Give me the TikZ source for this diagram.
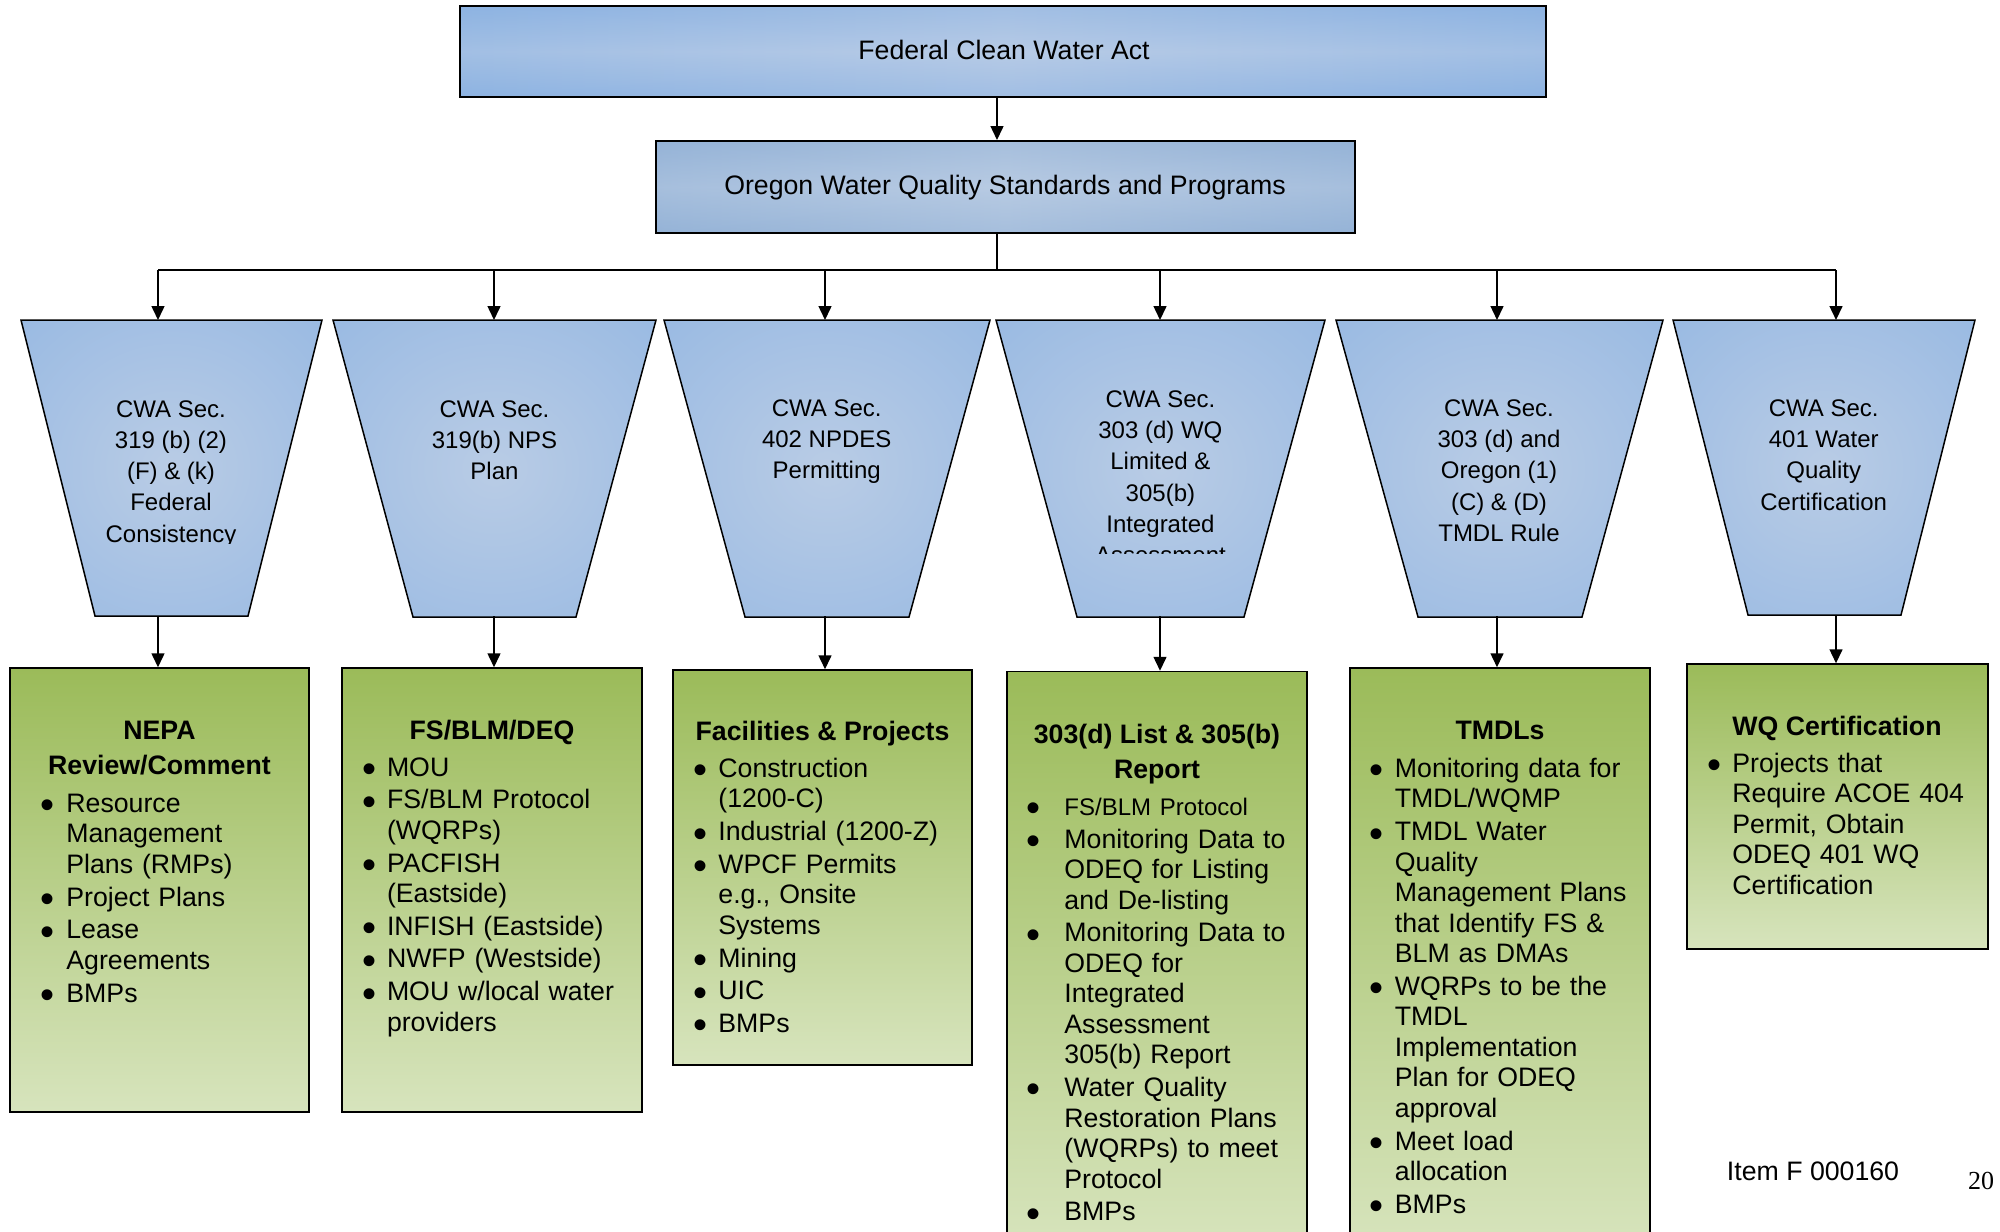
\documentclass[tikz,border=0pt]{standalone}
\usepackage{fontspec}
\setmainfont{Liberation Sans}
\newfontfamily\timesfont{Liberation Serif}
\usetikzlibrary{arrows.meta,fit}
\definecolor{bedge}{HTML}{8DB3E2}
\definecolor{bmid}{HTML}{B7CBE6}
\definecolor{bbedge}{HTML}{95B3D7}
\definecolor{bbmid}{HTML}{B8CBE3}
\definecolor{tin}{HTML}{B9CCE5}
\definecolor{tout}{HTML}{8DB3E2}
\definecolor{gtop}{HTML}{9BBB59}
\definecolor{gbot}{HTML}{D7E4BD}
\pgfdeclareradialshading{trapshade}{\pgfpoint{0bp}{0bp}}{color(0bp)=(tin); color(50bp)=(tout); color(72bp)=(tout)}
\newlength\bulind
\newcommand\bigbul{\kern-1.2pt\raisebox{-3.2pt}{\scalebox{1.5}{\textbullet}}}
\newcommand\fitem[1]{\hangindent=\bulind\hangafter=1\strut\makebox[\bulind][l]{\bigbul}#1}
\newcommand\bitem[1]{\par\noindent\fitem{#1}}
\begin{document}
\begin{tikzpicture}[x=0.5pt,y=-0.5pt,
  arr/.style={-{Triangle[length=7pt,width=6.5pt]}, line width=0.75pt},
  conn/.style={line width=0.75pt},
  topbox/.style={draw, line width=1pt, inner sep=0pt},
  toptext/.style={inner sep=0pt, font=\fontsize{13.35}{16}\selectfont},
  trapbox/.style={draw, line width=0.75pt, shading=trapshade},
  ttext/.style={align=center, inner sep=0pt, font=\fontsize{12}{15.65}\selectfont},
  gbox/.style={draw, line width=0.75pt, top color=gtop, bottom color=gbot, inner sep=0pt},
  gtitle/.style={inner sep=0pt, font=\fontsize{13.35}{15.25}\selectfont\bfseries},
  glist/.style={inner sep=0pt, text width=145pt, align=left, font=\fontsize{13.35}{15.25}\selectfont},
  plain/.style={inner sep=0pt, font=\fontsize{13.35}{16}\selectfont}
]
\useasboundingbox (0,0) rectangle (2000,1231);
\clip (0,0) rectangle (2000,1231);
\fill[white] (0,0) rectangle (2000,1231);

% top boxes
\path[left color=bedge, right color=bedge, middle color=bmid] (460,6) rectangle (1546,97);
\path[top color=bedge, bottom color=bedge, middle color=bmid, opacity=0.5] (460,6) rectangle (1546,97);
\node[topbox, fit={(460,6) (1546,97)}] (fcwa) {};
\node[toptext, anchor=base] (fcwat) at (1004,59.5) {Federal Clean Water Act};

\path[left color=bbedge, right color=bbedge, middle color=bbmid] (656,141) rectangle (1355,233);
\path[top color=bbedge, bottom color=bbedge, middle color=bbmid, opacity=0.5] (656,141) rectangle (1355,233);
\node[topbox, fit={(656,141) (1355,233)}] (owq) {};
\node[toptext, anchor=base] (owqt) at (1005,194.5) {Oregon Water Quality Standards and Programs};

\coordinate (trunk) at (997,270);
\draw[arr] (fcwa.south -| trunk) -- (owq.north -| trunk);
\draw[conn] (owq.south -| trunk) -- (trunk);
\coordinate (busL) at (158,270);
\coordinate (busR) at (1836,270);
\draw[conn] (busL) -- (busR);

% trapezoids
\path[trapbox] (21,320) -- (322,320) -- (248,616) -- (95,616) -- cycle;
\path[trapbox] (333,320) -- (656,320) -- (576,617) -- (413,617) -- cycle;
\path[trapbox] (664,320) -- (990,320) -- (909,617) -- (745,617) -- cycle;
\path[trapbox] (996,320) -- (1325,320) -- (1244,617) -- (1077,617) -- cycle;
\path[trapbox] (1336,320) -- (1663,320) -- (1582,617) -- (1418,617) -- cycle;
\path[trapbox] (1673,320) -- (1975,320) -- (1901,615) -- (1748,615) -- cycle;

\begin{scope}
\clip (0,300) rectangle (2000,543);
\node[ttext, anchor=north] (t1) at (171,394.7) {\strut CWA Sec.\\319 (b) (2)\\(F) \& (k)\\Federal\\Consistency};
\end{scope}
\node[ttext, anchor=north] (t2) at (494.5,394.7) {\strut CWA Sec.\\319(b) NPS\\Plan};
\node[ttext, anchor=north] (t3) at (826.7,394) {\strut CWA Sec.\\402 NPDES\\Permitting};
\begin{scope}
\clip (0,300) rectangle (2000,553);
\node[ttext, anchor=north] (t4) at (1160.4,385) {\strut CWA Sec.\\303 (d) WQ\\Limited \&\\305(b)\\Integrated\\Assessment};
\end{scope}
\node[ttext, anchor=north] (t5) at (1499,394) {\strut CWA Sec.\\303 (d) and\\Oregon (1)\\(C) \& (D)\\TMDL Rule};
\node[ttext, anchor=north] (t6) at (1823.7,394) {\strut CWA Sec.\\401 Water\\Quality\\Certification};

% green boxes
\node[gbox, fit={(10,668) (309,1112)}] (g1) {};
\node[gbox, fit={(342,668) (642,1112)}] (g2) {};
\node[gbox, fit={(673,670) (972,1065)}] (g3) {};
\node[gbox, fit={(1007,671.5) (1307,1250)}] (g4) {};
\node[gbox, fit={(1350,668) (1650,1250)}] (g5) {};
\node[gbox, fit={(1687,664) (1988,949)}] (g6) {};

% connectors
\foreach \x/\i in {158/1, 494/2, 825/3, 1160/4, 1497/5, 1836/6}{
  \coordinate (d\i) at (\x,270);
  \coordinate (tt\i) at (\x,320);
  \coordinate (tb\i) at (\x,616);
  \draw[arr] (d\i) -- (tt\i);
  \draw[arr] (tb\i) -- (tb\i |- g\i.north);
}

% titles
\node[gtitle, anchor=base] (g1a) at (159.5,739) {NEPA};
\node[gtitle, anchor=base] (g1b) at (159.5,774) {Review/Comment};
\node[gtitle, anchor=base] (g2a) at (492,739) {FS/BLM/DEQ};
\node[gtitle, anchor=base] (g3a) at (822.5,740) {Facilities \& Projects};
\node[gtitle, anchor=base] (g4a) at (1157,743.5) {303(d) List \& 305(b)};
\node[gtitle, anchor=base] (g4b) at (1157,778.5) {Report};
\node[gtitle, anchor=base] (g5a) at (1500,739) {TMDLs};
\node[gtitle, anchor=base] (g6a) at (1837,735.5) {WQ Certification};

% lists
\node[glist, anchor=north west] (g1l) at (42.3,790.65) {\setlength\parskip{1.1pt}\setlength\bulind{11.85pt}%
\fitem{Resource\newline Management\newline Plans (RMPs)}
\bitem{Project Plans}
\bitem{Lease\newline Agreements}
\bitem{BMPs}\par};

\node[glist, anchor=north west] (g2l) at (364,754.35) {\setlength\parskip{1.1pt}\setlength\bulind{11.3pt}%
\fitem{MOU}
\bitem{FS/BLM Protocol\newline (WQRPs)}
\bitem{PACFISH\newline (Eastside)}
\bitem{INFISH (Eastside)}
\bitem{NWFP (Westside)}
\bitem{MOU w/local water\newline providers}\par};

\node[glist, anchor=north west] (g3l) at (695.3,755.65) {\setlength\parskip{1.1pt}\setlength\bulind{11.35pt}%
\fitem{Construction\newline (1200-C)}
\bitem{Industrial (1200-Z)}
\bitem{WPCF Permits\newline e.g., Onsite\newline Systems}
\bitem{Mining}
\bitem{UIC}
\bitem{BMPs}\par};

\node[glist, anchor=north west] (g4l) at (1028.3,793.65) {\setlength\parskip{1.1pt}\setlength\bulind{17.85pt}%
\fitem{{\fontsize{12}{15.25}\selectfont FS/BLM Protocol}}
\bitem{Monitoring Data to\newline ODEQ for Listing\newline and De-listing}
\bitem{Monitoring Data to\newline ODEQ for\newline Integrated\newline Assessment\newline 305(b) Report}
\bitem{Water Quality\newline Restoration Plans\newline (WQRPs) to meet\newline Protocol}
\bitem{BMPs}\par};

\node[glist, anchor=north west] (g5l) at (1371.9,755.65) {\setlength\parskip{1.1pt}\setlength\bulind{11.3pt}%
\fitem{Monitoring data for\newline TMDL/WQMP}
\bitem{TMDL Water\newline Quality\newline Management Plans\newline that Identify FS \&\newline BLM as DMAs}
\bitem{WQRPs to be the\newline TMDL\newline Implementation\newline Plan for ODEQ\newline approval}
\bitem{Meet load\newline allocation}
\bitem{BMPs}\par};

\node[glist, anchor=north west] (g6l) at (1709.3,750.65) {\setlength\parskip{1.1pt}\setlength\bulind{11.35pt}%
\fitem{Projects that\newline Require ACOE 404\newline Permit, Obtain\newline ODEQ 401 WQ\newline Certification}\par};

% footer
\node[plain, anchor=base] (item) at (1813,1180) {Item F 000160};
\node[plain, anchor=base, font=\timesfont\fontsize{13}{15}\selectfont] (pg) at (1981,1189) {20};
\end{tikzpicture}
\end{document}
